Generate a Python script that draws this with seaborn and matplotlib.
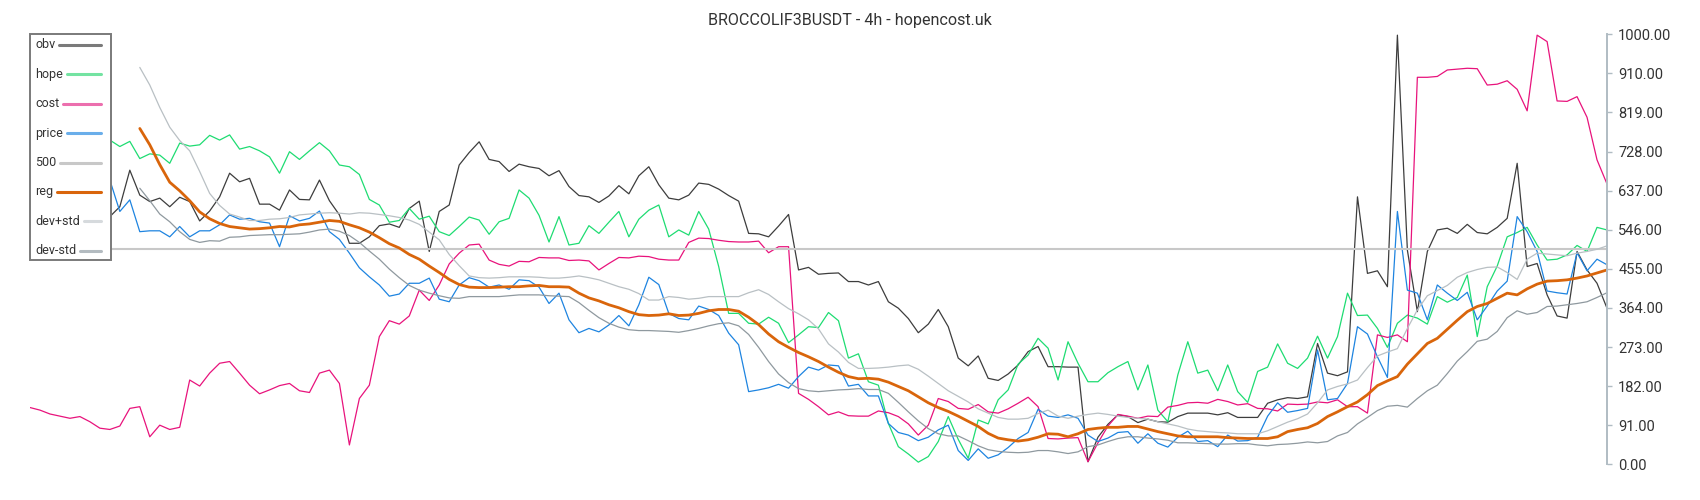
import numpy as np
import pandas as pd
import matplotlib
matplotlib.use("Agg")
import matplotlib.pyplot as plt
import seaborn as sns
from matplotlib.patches import Rectangle
from matplotlib.lines import Line2D

# ── Data (0..1000 scale, one point every candle) ──
TITLE = "BROCCOLIF3BUSDT - 4h - hopencost.uk"
LEVEL_500 = 500
TICK_LABELS = ["0.00", "91.00", "182.00", "273.00", "364.00", "455.00",
               "546.00", "637.00", "728.00", "819.00", "910.00", "1000.00"]
REG_START = 11  # reg / bands need a warm-up window

obv = [576, 564, 553, 545, 560, 568, 576, 584, 576, 599, 684, 626, 611, 619, 599, 621, 611, 566, 589, 622,
       677, 657, 665, 605, 605, 591, 638, 616, 615, 661, 613, 580, 514, 514, 529, 555, 559, 551, 595, 612,
       495, 588, 603, 696, 725, 750, 709, 704, 681, 698, 692, 688, 671, 683, 646, 625, 622, 609, 624, 648,
       629, 671, 692, 650, 619, 615, 626, 654, 651, 640, 625, 612, 537, 536, 529, 554, 581, 452, 458, 442,
       444, 445, 425, 425, 417, 425, 378, 363, 339, 306, 326, 360, 320, 247, 229, 252, 200, 195, 210, 231,
       262, 274, 227, 227, 226, 226, 6, 63, 93, 115, 111, 97, 105, 99, 98, 111, 119, 119, 119, 115,
       120, 109, 109, 109, 142, 150, 155, 153, 157, 281, 212, 206, 215, 622, 444, 450, 413, 998, 498, 355,
       495, 545, 549, 537, 558, 539, 536, 551, 572, 700, 460, 467, 394, 345, 340, 495, 452, 421, 363]

hope = [754, 762, 750, 754, 758, 750, 754, 758, 754, 739, 751, 711, 722, 719, 700, 747, 740, 743, 765, 754,
        766, 733, 739, 729, 715, 677, 727, 709, 729, 748, 729, 696, 692, 674, 616, 603, 563, 567, 595, 570,
        577, 541, 532, 553, 575, 568, 535, 564, 572, 638, 619, 579, 517, 576, 510, 514, 555, 537, 563, 588,
        529, 570, 591, 603, 529, 545, 533, 588, 547, 460, 351, 351, 328, 326, 342, 328, 283, 301, 320, 318,
        353, 334, 247, 257, 192, 184, 95, 41, 24, 5, 18, 53, 111, 58, 14, 103, 94, 150, 173, 233,
        254, 293, 270, 196, 285, 235, 192, 192, 213, 227, 239, 173, 231, 126, 99, 208, 285, 212, 219, 171,
        231, 169, 144, 216, 226, 280, 235, 223, 247, 298, 247, 297, 398, 346, 347, 316, 272, 328, 347, 340,
        326, 390, 377, 388, 440, 297, 413, 461, 529, 539, 551, 510, 475, 477, 487, 509, 495, 551, 545]

cost = [132, 126, 117, 112, 107, 111, 99, 84, 81, 89, 130, 134, 64, 91, 81, 86, 196, 182, 212, 235,
        239, 212, 184, 164, 173, 183, 188, 171, 167, 212, 219, 188, 45, 153, 184, 297, 334, 326, 345, 405,
        381, 417, 466, 491, 510, 512, 475, 465, 461, 472, 471, 481, 480, 480, 474, 475, 473, 452, 467, 481,
        480, 484, 483, 477, 475, 475, 516, 526, 525, 521, 518, 517, 517, 519, 492, 506, 506, 165, 151, 134,
        115, 122, 113, 112, 112, 124, 120, 111, 94, 68, 91, 153, 146, 130, 128, 139, 122, 119, 129, 142,
        156, 134, 60, 59, 61, 62, 6, 50, 89, 116, 112, 107, 112, 111, 133, 137, 143, 144, 142, 151,
        146, 138, 141, 130, 129, 124, 140, 139, 140, 145, 143, 150, 134, 134, 119, 301, 295, 301, 285, 900,
        900, 902, 917, 919, 921, 920, 882, 884, 892, 872, 822, 998, 983, 845, 844, 855, 807, 708, 652]

price = [638, 646, 630, 622, 638, 646, 634, 626, 661, 588, 615, 541, 543, 543, 529, 553, 529, 543, 543, 557,
         580, 570, 572, 564, 561, 506, 578, 566, 572, 589, 541, 523, 491, 457, 436, 417, 391, 396, 421, 421,
         433, 384, 378, 417, 434, 427, 412, 417, 407, 429, 427, 412, 374, 398, 336, 306, 316, 308, 324, 346,
         322, 371, 435, 418, 351, 339, 336, 368, 360, 346, 305, 278, 169, 173, 178, 186, 177, 204, 226, 219,
         231, 229, 182, 186, 159, 159, 95, 74, 68, 55, 63, 80, 91, 32, 9, 36, 14, 22, 39, 60,
         74, 128, 112, 109, 115, 107, 68, 53, 61, 74, 76, 49, 71, 49, 40, 63, 77, 53, 55, 41,
         68, 54, 55, 63, 112, 143, 121, 125, 130, 266, 150, 153, 188, 320, 303, 250, 202, 588, 405, 398,
         336, 417, 398, 381, 400, 336, 368, 403, 426, 576, 541, 495, 403, 399, 396, 492, 450, 477, 464]

reg = [np.nan] * REG_START + [
    781, 743, 697, 656, 636, 613, 587, 571, 560,
    553, 550, 547, 548, 550, 553, 552, 557, 559, 563, 567, 565, 557, 550, 540, 527, 513, 503, 488, 477,
    461, 446, 430, 418, 412, 411, 411, 412, 413, 413, 415, 416, 413, 413, 412, 398, 387, 380, 371, 364,
    355, 348, 346, 347, 350, 346, 347, 351, 357, 360, 360, 356, 342, 325, 303, 285, 272, 260, 250, 239,
    226, 214, 204, 199, 200, 198, 191, 181, 171, 157, 143, 132, 123, 112, 100, 88, 72, 61, 57, 54,
    57, 63, 71, 70, 64, 71, 81, 84, 86, 86, 88, 88, 82, 76, 71, 66, 64, 64, 64, 64,
    62, 61, 60, 60, 60, 64, 76, 81, 85, 95, 111, 122, 134, 145, 162, 183, 194, 204, 233, 257,
    281, 293, 314, 335, 355, 367, 374, 386, 398, 394, 408, 419, 426, 427, 429, 433, 438, 445, 452]

dev_hi = [np.nan] * REG_START + [
    923, 882, 830, 784, 753, 729, 681, 630, 602,
    582, 575, 567, 567, 570, 571, 574, 580, 582, 584, 585, 584, 582, 585, 584, 581, 578, 574, 568, 558,
    540, 522, 488, 462, 438, 434, 433, 434, 436, 436, 436, 435, 433, 433, 435, 438, 434, 429, 421, 413,
    407, 397, 382, 382, 390, 388, 384, 386, 390, 390, 390, 390, 399, 406, 395, 378, 362, 350, 336, 315,
    280, 261, 237, 223, 223, 224, 226, 229, 231, 221, 205, 188, 171, 158, 145, 129, 119, 109, 105, 105,
    107, 118, 126, 112, 107, 112, 116, 119, 116, 112, 109, 107, 105, 99, 94, 89, 82, 78, 76, 74,
    73, 71, 71, 71, 78, 88, 98, 106, 117, 143, 173, 181, 187, 196, 225, 252, 261, 269, 316, 359,
    392, 404, 416, 435, 446, 453, 458, 459, 446, 430, 477, 491, 489, 487, 485, 491, 495, 500, 508]

dev_lo = [np.nan] * REG_START + [
    642, 613, 582, 564, 541, 523, 516, 520, 519,
    528, 529, 532, 533, 534, 534, 535, 536, 540, 545, 547, 542, 532, 516, 496, 477, 454, 434, 416, 405,
    398, 392, 387, 386, 390, 390, 390, 390, 392, 394, 394, 394, 392, 391, 390, 376, 358, 341, 328, 319,
    313, 311, 311, 310, 309, 307, 311, 316, 322, 327, 329, 322, 302, 272, 239, 210, 190, 176, 171, 169,
    171, 173, 174, 176, 174, 174, 165, 144, 122, 101, 83, 71, 66, 66, 55, 43, 34, 30, 28, 27,
    28, 32, 32, 29, 25, 29, 41, 45, 53, 60, 64, 64, 61, 59, 56, 50, 50, 49, 48, 47,
    47, 48, 48, 45, 43, 46, 47, 49, 52, 50, 53, 66, 74, 94, 109, 125, 135, 137, 133, 153,
    171, 184, 211, 240, 262, 286, 291, 309, 341, 357, 349, 353, 367, 368, 371, 374, 378, 388, 399]

# ── Style ──────────────────────────────────────────────────────────────────
sns.set_theme(style="white")
plt.rcParams["font.family"] = ["Roboto", "DejaVu Sans"]

df = pd.DataFrame({"obv": obv, "hope": hope, "cost": cost, "price": price,
                   "reg": reg, "dev+std": dev_hi, "dev-std": dev_lo})
df["t"] = np.arange(len(df))

STYLE = {  # name: (line colour, width, legend colour)
    "obv": ("#3d3d3d", 0.9, "#7a7a7a"),
    "hope": ("#1edc72", 0.9, "#74e3a2"),
    "cost": ("#e8137c", 0.9, "#ec6fae"),
    "price": ("#1e84e0", 0.9, "#6aaeea"),
    "500": ("#c8c8c8", 1.5, "#c8c8c8"),
    "reg": ("#d9650b", 2.0, "#d9650b"),
    "dev+std": ("#b9c0c4", 0.9, "#d6dadd"),
    "dev-std": ("#8f999f", 0.9, "#b3bbc0"),
}
ORDER = ["obv", "hope", "cost", "price", "500", "reg", "dev+std", "dev-std"]

W, H = 1700, 500
fig = plt.figure(figsize=(W / 100, H / 100), dpi=100)
ax = fig.add_axes([30 / W, 1 - 464.3 / H, 1577 / W, 430 / H])

for name in ["obv", "hope", "cost", "price"]:
    col, lw, _ = STYLE[name]
    sns.lineplot(data=df, x="t", y=name, ax=ax, color=col, lw=lw)

ax.axhline(LEVEL_500, color=STYLE["500"][0], lw=STYLE["500"][1])

for name in ["reg", "dev+std", "dev-std"]:
    col, lw, _ = STYLE[name]
    sub = df[["t", name]].dropna()
    sns.lineplot(data=sub, x="t", y=name, ax=ax, color=col, lw=lw)

ax.set_xlim(0, len(df) - 1)
ax.set_ylim(0, 1000)
ax.set_xlabel("")
ax.set_ylabel("")
ax.set_xticks([])
ax.set_yticks(np.linspace(0, 1000, len(TICK_LABELS)))
ax.set_yticklabels(TICK_LABELS)
ax.yaxis.tick_right()
ax.tick_params(axis="y", direction="out", length=3.6, width=1.0, color="#b0bcc3",
               labelsize=10.5, labelcolor="#333333", pad=4.5)
for side in ["top", "left", "bottom"]:
    ax.spines[side].set_visible(False)
ax.spines["right"].set_color("#b0bcc3")
ax.spines["right"].set_linewidth(1.4)

# ── Legend box: labels left-aligned, sample line fills the rest of the row ──
def fx(px):
    return px / W


def fy(py):
    return 1 - py / H


fig.add_artist(Rectangle((fx(30), fy(260)), fx(81), 226 / H, transform=fig.transFigure,
                         facecolor="white", edgecolor="#7a7a7a", lw=1.4, zorder=5))
renderer = fig.canvas.get_renderer()
for k, name in enumerate(ORDER):
    yc = 45 + k * 29.4
    t = fig.text(fx(35), fy(yc), name, ha="left", va="center", fontsize=9,
                 color="#333333", zorder=6)
    x_end = t.get_window_extent(renderer=renderer).x1
    fig.add_artist(Line2D([fx(x_end + 4), fx(101)], [fy(yc), fy(yc)], transform=fig.transFigure,
                          color=STYLE[name][2], lw=2.2, zorder=6))

fig.text(0.5, fy(20.5), TITLE, ha="center", va="center", fontsize=11.6, color="#333333")

fig.savefig("out.png", dpi=100)
